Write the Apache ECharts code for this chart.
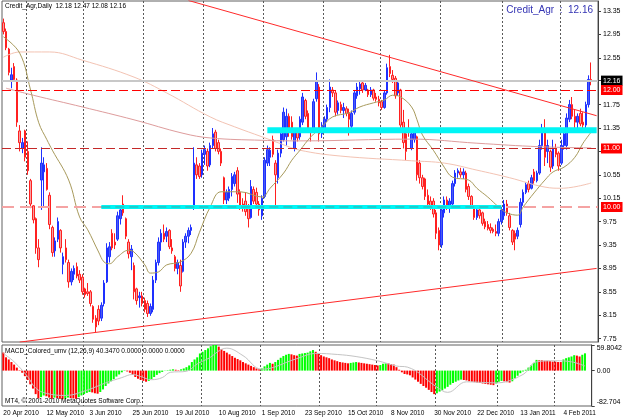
<!DOCTYPE html>
<html>
<head>
<meta charset="utf-8">
<script src="https://cdn.jsdelivr.net/npm/echarts@6/dist/echarts.min.js"></script>
<style>
  html, body { margin: 0; padding: 0; background: #fff; }
  #chart { width: 625px; height: 420px; }
</style>
</head>
<body>
<div id="chart"></div>
<script>
// daily bars, Credit_Agr, from 20 Apr 2010 (weekdays only)
const startDate = [2010, 3, 20]
const barCount = 217
const emptyBars = 2

const opens = [
  13.15, 13.00, 12.70, 12.17, 12.40, 12.17, 11.30, 11.00, 11.30, 10.95, 10.45, 10.02, 9.80, 9.30, 10.46, 10.60,
  10.66, 10.20, 9.65, 9.25, 9.45, 9.60, 9.02, 9.30, 9.05, 8.72, 8.85, 8.98, 8.85, 8.80, 8.60, 8.55,
  8.55, 8.30, 8.10, 8.25, 8.10, 8.35, 8.72, 9.15, 9.55, 9.40, 9.45, 9.80, 10.05, 9.80, 9.40, 9.15,
  9.00, 8.60, 8.45, 8.48, 8.40, 8.35, 8.18, 8.25, 8.75, 9.05, 9.40, 9.55, 9.50, 9.60, 9.30, 9.15,
  8.95, 9.00, 8.90, 9.40, 9.50, 9.60, 9.98, 10.72, 10.70, 10.55, 10.90, 10.95, 10.72, 11.05, 11.28, 11.10,
  10.95, 10.50, 10.12, 10.15, 10.30, 10.40, 10.62, 10.25, 10.05, 10.10, 10.00, 9.82, 10.30, 10.25, 10.05, 9.85,
  10.18, 10.75, 10.85, 11.15, 10.75, 10.50, 10.92, 11.15, 11.20, 11.55, 11.45, 11.00, 11.28, 11.20, 11.45, 11.82,
  11.60, 11.30, 11.30, 11.85, 12.05, 11.25, 11.32, 11.50, 11.70, 12.00, 11.95, 11.65, 11.75, 11.65, 11.68, 11.60,
  11.38, 11.62, 11.90, 12.02, 12.12, 12.00, 12.00, 11.92, 12.00, 11.88, 11.84, 11.80, 11.70, 11.95, 12.40, 12.25,
  12.20, 11.95, 12.00, 11.45, 11.25, 11.35, 11.00, 11.15, 11.20, 10.75, 10.50, 10.48, 10.20, 10.10, 10.10, 9.90,
  9.60, 9.35, 9.90, 10.12, 10.00, 10.05, 10.40, 10.58, 10.60, 10.55, 10.58, 10.35, 10.18, 10.00, 9.82, 9.95,
  9.90, 9.75, 9.70, 9.65, 9.62, 9.58, 9.55, 9.75, 9.85, 10.05, 9.85, 9.60, 9.55, 9.50, 9.70, 10.08,
  10.25, 10.40, 10.32, 10.60, 10.45, 10.58, 11.05, 11.30, 10.95, 10.95, 10.70, 11.00, 10.92, 10.75, 11.05, 11.05,
  11.50, 11.75, 11.55, 11.45, 11.60, 11.45, 11.40, 11.75, 12.18
]
const highs = [
  13.22, 13.05, 12.72, 12.38, 12.46, 12.20, 11.40, 11.18, 11.32, 11.12, 10.48, 10.03, 9.82, 9.45, 11.02, 10.85,
  10.75, 10.25, 9.68, 9.48, 9.82, 9.62, 9.22, 9.45, 9.10, 8.95, 9.00, 9.05, 8.92, 8.85, 8.62, 8.70,
  8.58, 8.32, 8.15, 8.32, 8.37, 8.75, 9.38, 9.40, 9.62, 9.55, 9.92, 10.00, 10.20, 9.82, 9.45, 9.35,
  9.05, 8.62, 8.55, 8.55, 8.45, 8.40, 8.35, 8.82, 9.10, 9.48, 9.62, 9.70, 9.65, 9.62, 9.45, 9.18,
  9.10, 9.10, 9.45, 9.55, 9.65, 9.70, 11.02, 10.85, 10.75, 10.98, 11.05, 11.00, 11.10, 11.35, 11.32, 11.15,
  11.00, 10.52, 10.30, 10.35, 10.58, 10.60, 10.68, 10.30, 10.15, 10.25, 10.05, 10.46, 10.35, 10.33, 10.10, 10.20,
  10.85, 11.05, 11.02, 11.22, 10.80, 10.98, 11.32, 11.70, 11.68, 11.60, 11.55, 11.35, 11.35, 11.55, 11.95, 11.85,
  11.65, 11.35, 11.85, 12.30, 12.10, 11.45, 11.55, 11.75, 12.18, 12.05, 12.00, 11.82, 11.80, 11.78, 11.72, 11.68,
  11.65, 12.00, 12.12, 12.15, 12.17, 12.12, 12.02, 12.05, 12.02, 11.95, 11.90, 11.83, 12.00, 12.45, 12.60, 12.34,
  12.24, 12.17, 12.02, 11.66, 11.32, 11.50, 11.32, 11.32, 11.22, 10.80, 10.55, 10.50, 10.30, 10.18, 10.15, 9.95,
  9.65, 10.02, 10.18, 10.18, 10.15, 10.45, 10.63, 10.66, 10.67, 10.66, 10.62, 10.40, 10.20, 10.02, 10.00, 9.98,
  9.92, 9.80, 9.76, 9.72, 9.65, 9.70, 9.80, 10.00, 10.12, 10.12, 9.90, 9.62, 9.60, 9.65, 10.15, 10.30,
  10.42, 10.45, 10.55, 10.65, 10.62, 11.15, 11.42, 11.50, 11.15, 10.98, 11.15, 11.08, 10.95, 11.15, 11.32, 11.60,
  11.83, 11.88, 11.66, 11.60, 11.68, 11.62, 11.80, 12.25, 12.47
]
const lows = [
  12.95, 12.68, 12.25, 12.03, 12.15, 11.37, 10.95, 10.92, 10.78, 10.55, 9.98, 9.72, 9.20, 8.97, 9.95, 10.00,
  10.28, 9.62, 9.15, 9.15, 9.40, 9.22, 8.85, 9.05, 8.62, 8.66, 8.75, 8.78, 8.70, 8.50, 8.45, 8.48,
  8.30, 8.02, 7.86, 7.98, 8.05, 8.30, 8.70, 9.05, 9.26, 9.28, 9.42, 9.70, 9.85, 9.45, 9.12, 8.92,
  8.42, 8.33, 8.28, 8.30, 8.20, 8.12, 8.14, 8.20, 8.70, 9.00, 9.25, 9.40, 9.40, 9.28, 9.20, 8.90,
  8.85, 8.55, 8.88, 9.30, 9.38, 9.52, 9.95, 10.48, 10.48, 10.50, 10.72, 10.62, 10.68, 11.00, 10.95, 10.90,
  10.70, 10.05, 10.05, 10.10, 10.18, 10.35, 10.07, 9.95, 9.92, 9.85, 9.65, 9.80, 10.05, 10.02, 9.85, 9.78,
  10.15, 10.70, 10.70, 10.85, 10.00, 10.40, 10.85, 11.12, 11.05, 11.20, 11.15, 10.95, 11.12, 11.15, 11.40, 11.50,
  11.30, 11.12, 11.28, 11.80, 11.12, 11.18, 11.28, 11.45, 11.62, 11.88, 11.55, 11.58, 11.60, 11.52, 11.55, 11.22,
  11.35, 11.58, 11.85, 11.92, 11.95, 11.98, 11.88, 11.88, 11.82, 11.80, 11.72, 11.66, 11.68, 11.92, 12.22, 12.12,
  11.85, 11.90, 11.30, 11.00, 10.80, 11.20, 10.97, 11.10, 10.45, 10.40, 10.30, 10.12, 10.00, 9.95, 9.82, 9.45,
  9.26, 9.30, 9.82, 9.95, 9.90, 10.00, 10.35, 10.50, 10.50, 10.48, 10.25, 10.12, 10.00, 9.78, 9.78, 9.80,
  9.68, 9.62, 9.60, 9.55, 9.55, 9.50, 9.50, 9.70, 9.78, 9.85, 9.60, 9.35, 9.26, 9.45, 9.65, 10.02,
  10.22, 10.25, 10.30, 10.40, 10.42, 10.55, 10.98, 10.70, 10.75, 10.60, 10.65, 10.85, 10.62, 10.72, 10.98, 10.98,
  11.45, 11.50, 11.35, 11.32, 11.38, 11.32, 11.35, 11.70, 12.08
]
const closes = [
  13.00, 12.72, 12.30, 12.26, 12.18, 11.45, 11.10, 11.10, 10.85, 10.62, 10.05, 9.78, 9.30, 9.10, 10.75, 10.72,
  10.30, 9.70, 9.22, 9.42, 9.75, 9.30, 9.15, 9.10, 8.72, 8.90, 8.95, 8.82, 8.75, 8.55, 8.50, 8.52,
  8.35, 8.08, 7.95, 8.05, 8.32, 8.70, 9.30, 9.32, 9.30, 9.35, 9.85, 9.95, 9.90, 9.50, 9.20, 9.28,
  8.55, 8.40, 8.48, 8.35, 8.25, 8.18, 8.30, 8.75, 9.05, 9.40, 9.55, 9.45, 9.58, 9.32, 9.25, 8.95,
  9.05, 8.65, 9.40, 9.50, 9.60, 9.65, 10.75, 10.55, 10.52, 10.92, 10.98, 10.70, 11.05, 11.25, 11.00, 10.95,
  10.75, 10.12, 10.25, 10.30, 10.52, 10.55, 10.22, 10.02, 10.00, 9.92, 9.80, 10.35, 10.10, 10.05, 9.95, 10.15,
  10.80, 10.98, 10.97, 10.90, 10.55, 10.92, 11.25, 11.62, 11.55, 11.30, 11.20, 11.28, 11.18, 11.50, 11.88, 11.55,
  11.35, 11.28, 11.80, 12.15, 11.25, 11.40, 11.50, 11.70, 12.05, 11.95, 11.62, 11.78, 11.65, 11.70, 11.60, 11.50,
  11.60, 11.95, 12.05, 12.10, 12.00, 12.08, 11.92, 12.00, 11.86, 11.84, 11.78, 11.70, 11.95, 12.38, 12.28, 12.18,
  11.90, 12.12, 11.40, 11.10, 10.95, 11.28, 11.25, 11.28, 10.55, 10.50, 10.35, 10.18, 10.05, 10.00, 9.88, 9.55,
  9.35, 9.95, 10.12, 10.00, 10.10, 10.40, 10.58, 10.62, 10.55, 10.60, 10.30, 10.18, 10.02, 9.82, 9.95, 9.85,
  9.72, 9.66, 9.63, 9.60, 9.58, 9.55, 9.75, 9.95, 10.05, 9.90, 9.65, 9.40, 9.45, 9.60, 10.08, 10.25,
  10.38, 10.30, 10.50, 10.45, 10.58, 11.05, 11.35, 10.85, 11.05, 10.68, 11.00, 10.90, 10.70, 11.05, 11.25, 11.52,
  11.75, 11.55, 11.45, 11.55, 11.42, 11.40, 11.75, 12.18, 12.16
]

// MACD_Colored (12,26,9) main line, drawn as histogram
const macdHist = [
  42, 31, 26, 20, 14, 7, 1, -5, -13, -22, -32, -42, -55, -65, -62, -58,
  -60, -63, -66, -63, -64, -66, -67, -66, -63, -64, -65, -66, -62, -58, -55, -52,
  -50, -51, -53, -54, -50, -44, -36, -30, -25, -20, -14, -9, -4, -1, -2, -5,
  -10, -15, -19, -22, -24, -26, -24, -20, -15, -10, -6, -3, 0.5, 1, 2, 3,
  2, 1, 3, 5, 8, 12, 20, 26, 31, 40, 44, 48, 52, 57, 60, 61,
  56, 50, 46, 42, 38, 34, 30, 27, 24, 20, 17, 14, 11, 8, 5, 3,
  5, 10, 14, 18, 16, 20, 25, 30, 34, 37, 39, 38, 36, 35, 39, 40,
  41, 42, 45, 48, 44, 40, 36, 33, 31, 29, 26, 24, 22, 20, 19, 18,
  17, 18, 19, 20, 19, 18, 17, 16, 15, 14, 13, 12, 13, 16, 17, 17,
  15, 14, 8, 2, -4, -8, -9, -11, -16, -21, -26, -31, -36, -40, -45, -50,
  -55, -53, -49, -46, -42, -38, -33, -29, -26, -23, -21, -22, -23, -25, -26, -27,
  -28, -29, -30, -31, -32, -33, -34, -30, -26, -24, -25, -27, -28, -25, -18, -12,
  -6, -2, 2, 7, 12, 18, 25, 24, 24, 23, 23, 22, 21, 21, 20, 20,
  26, 29, 31, 33, 36, 35, 33, 37, 40.35
]
// signal line, read as [bar, value]
const macdSignal = [
  [0, 40.1], [4, 20.5], [9, -13.9], [12, -40.9], [16, -53.2], [23, -58.1], [31, -45.8], [38, -28.7],
  [44, -16.4], [48, -9.0], [51, -13.9], [55, -21.3], [59, -16.4], [62, -4.1], [68, -1.6], [72, 15.6],
  [76, 27.9], [83, 52.4], [89, 35.0], [96, 3.3], [109, 27.9], [116, 40.1], [124, 37.7], [131, 32.8],
  [139, 22.9], [146, 10.7], [150, 8.2], [161, -38.5], [165, -50.8], [172, -26.2], [183, -28.7], [193, -9.0],
  [198, 20.5], [205, 23.0], [211, 20.5], [216, 10.7]
]
const macdAxisLabels = [-82.704, 0, 59.8042]

// moving averages, read as [bar, price]
const maFast = [
  [0, 12.91], [6, 12.63], [10, 12.00], [13, 11.44], [16, 11.15], [18, 10.97], [24, 10.46], [28, 9.83],
  [31, 9.61], [35, 9.23], [37, 9.06], [39, 9.03], [42, 9.15], [46, 9.26], [48, 9.23], [52, 9.01],
  [54, 8.87], [57, 8.89], [60, 9.01], [65, 9.06], [69, 9.21], [72, 9.56], [76, 10.00], [80, 10.26],
  [87, 10.26], [95, 10.17], [98, 10.32], [103, 10.58], [106, 10.80], [109, 10.97], [113, 11.20], [117, 11.37],
  [121, 11.54], [127, 11.61], [131, 11.71], [136, 11.78], [140, 11.83], [143, 11.91], [146, 11.88], [150, 11.71],
  [152, 11.49], [154, 11.23], [158, 10.97], [162, 10.68], [165, 10.51], [171, 10.46], [174, 10.32], [178, 10.17],
  [182, 10.00], [185, 9.90], [189, 9.86], [191, 10.00], [195, 10.24], [199, 10.46], [202, 10.60], [206, 10.68],
  [210, 10.85], [213, 11.09], [216, 11.28]
]
const maSlow = [
  [0, 12.56], [6, 12.65], [17, 12.65], [29, 12.51], [48, 12.22], [60, 11.95], [76, 11.54], [85, 11.37],
  [95, 11.20], [102, 11.08], [109, 10.97], [124, 10.87], [150, 10.79], [162, 10.75], [174, 10.63], [186, 10.50],
  [199, 10.34], [205, 10.32], [216, 10.41]
]
const maMid = [
  [1, 12.03], [11, 11.91], [29, 11.71], [48, 11.49], [66, 11.26], [76, 11.18], [95, 11.14], [109, 11.13],
  [150, 11.16], [174, 11.09], [197, 11.03], [216, 11.01]
]

// drawn objects
const trendTop = [[68, 13.53], [218, 11.56]]
const trendBottom = [[6, 7.69], [218, 8.95]]
const zoneHigh = [[97, 11.31], [218, 11.31]]
const zoneLow = [[36, 10.0], [183, 10.0]]
const bidPrice = 12.16
const levels = [12.0, 11.0, 10.0]

const priceTicks = [7.75, 8.15, 8.55, 8.95, 9.35, 9.75, 10.15, 10.55, 10.95, 11.35, 11.75, 12.16, 12.55, 12.95, 13.35]
const gridBars = [9, 30, 52, 74, 96, 118, 139, 161, 184, 205]

const monthNames = ['Jan', 'Feb', 'Mar', 'Apr', 'May', 'Jun', 'Jul', 'Aug', 'Sep', 'Oct', 'Nov', 'Dec']
const dates = []
const day = new Date(Date.UTC(startDate[0], startDate[1], startDate[2]))
while (dates.length < barCount) {
  const wd = day.getUTCDay()
  if (wd !== 0 && wd !== 6) {
    dates.push(day.getUTCDate() + ' ' + monthNames[day.getUTCMonth()] + ' ' + day.getUTCFullYear())
  }
  day.setUTCDate(day.getUTCDate() + 1)
}
const categories = dates.concat(new Array(emptyBars).fill(''))

const candles = opens.map((o, i) => [o, closes[i], lows[i], highs[i]])
const macdBars = macdHist.map((v, i) => ({
  value: v,
  itemStyle: { color: i > 0 && v > macdHist[i - 1] ? '#00ff00' : '#ff0000' }
}))

const font = 'Liberation Sans, Arial, sans-serif'
const gridLine = {
  show: true,
  interval: i => gridBars.includes(i),
  lineStyle: { color: '#5a5a5a', type: [2, 2], width: 1 }
}
const boxLabel = (text, bg) => ({
  show: true,
  position: 'end',
  formatter: text,
  color: '#fff',
  backgroundColor: bg,
  fontSize: 7,
  fontFamily: font,
  padding: [2, 2, 1, 2],
  distance: 3
})
const levelStyles = [
  { color: '#ff0000', type: [9, 4], width: 1 },
  { color: '#c42828', type: [9, 4], width: 1 },
  { color: '#f5a3a3', type: [12, 6], width: 2 }
]

const chart = echarts.init(document.getElementById('chart'), null, { renderer: 'canvas' })
chart.setOption({
  animation: false,
  backgroundColor: '#fff',
  grid: [
    { left: 2, right: 27, top: 1, height: 341, show: true, borderColor: '#606060', borderWidth: 1 },
    { left: 2, right: 27, top: 345, height: 61, show: true, borderColor: '#606060', borderWidth: 1 }
  ],
  xAxis: [
    {
      gridIndex: 0, type: 'category', data: categories, boundaryGap: true,
      axisLine: { show: false }, axisTick: { show: false }, axisLabel: { show: false },
      splitLine: gridLine
    },
    {
      gridIndex: 1, type: 'category', data: categories, boundaryGap: true,
      axisLine: { show: false }, axisTick: { show: false },
      axisLabel: {
        interval: i => i % 16 === 0 && i < barCount,
        align: 'left', fontSize: 6.5, fontFamily: font, color: '#000', margin: 4
      },
      splitLine: gridLine
    }
  ],
  yAxis: [
    {
      gridIndex: 0, type: 'value', position: 'right', min: 7.692, max: 13.521, scale: true,
      axisLine: { show: true, lineStyle: { color: '#404040' } },
      axisTick: { show: true, customValues: priceTicks, length: 3, lineStyle: { color: '#404040' } },
      axisLabel: { customValues: priceTicks, formatter: v => v.toFixed(2), fontSize: 7, fontFamily: font, color: '#000', margin: 5 },
      splitLine: { show: false }
    },
    {
      gridIndex: 1, type: 'value', position: 'right', min: -82.704, max: 59.8042,
      axisLine: { show: true, lineStyle: { color: '#404040' } },
      axisTick: { show: true, customValues: macdAxisLabels, length: 3, lineStyle: { color: '#404040' } },
      axisLabel: {
        customValues: macdAxisLabels,
        formatter: v => (v === 0 ? '0.00' : String(v)),
        verticalAlignMaxLabel: 'top',
        verticalAlignMinLabel: 'bottom',
        fontSize: 7, fontFamily: font, color: '#000', margin: 5
      },
      splitLine: { show: false }
    }
  ],
  series: [
    {
      type: 'candlestick', xAxisIndex: 0, yAxisIndex: 0, data: candles, barWidth: 2, z: 2,
      itemStyle: { color: '#4a5cf2', borderColor: '#1e30ff', color0: '#f5a2a2', borderColor0: '#ff2020', borderWidth: 1 },
      markLine: {
        silent: true, symbol: 'none', z: 4,
        data: [
          { yAxis: bidPrice, lineStyle: { color: '#c8c8c8', type: 'solid', width: 2 }, label: boxLabel(bidPrice.toFixed(2), '#000') }
        ].concat(levels.map((v, i) => ({ yAxis: v, lineStyle: levelStyles[i], label: boxLabel(v.toFixed(2), '#ff0000') })))
      }
    },
    { type: 'line', data: zoneHigh, symbol: 'none', z: 5, lineStyle: { color: '#00f5f5', width: 6 } },
    { type: 'line', data: zoneLow, symbol: 'none', z: 5, lineStyle: { color: '#00f5f5', width: 4 } },
    { type: 'line', data: zoneLow, symbol: 'none', z: 6, lineStyle: { color: '#3aa6a6', width: 1, type: [9, 5] } },
    { type: 'line', data: maSlow, symbol: 'none', smooth: 0.4, z: 3, lineStyle: { color: '#f3c3b3', width: 1 } },
    { type: 'line', data: maMid, symbol: 'none', smooth: 0.4, z: 3, lineStyle: { color: '#de9c9c', width: 1 } },
    { type: 'line', data: maFast, symbol: 'none', smooth: 0.4, z: 3, lineStyle: { color: '#a89a5c', width: 1 } },
    { type: 'line', data: trendTop, symbol: 'none', z: 4, lineStyle: { color: '#ff2a2a', width: 1 } },
    { type: 'line', data: trendBottom, symbol: 'none', z: 4, lineStyle: { color: '#ff2a2a', width: 1 } },
    { type: 'bar', xAxisIndex: 1, yAxisIndex: 1, data: macdBars, barWidth: 2, z: 2 },
    { type: 'line', xAxisIndex: 1, yAxisIndex: 1, data: macdSignal, symbol: 'none', smooth: 0.4, z: 3, lineStyle: { color: '#c4c4c4', width: 1 } }
  ],
  graphic: [
    { type: 'text', left: 5, top: 3, z: 10, style: { text: 'Credit_Agr,Daily  12.18 12.47 12.08 12.16', font: '6.5px ' + font, fill: '#000' } },
    { type: 'text', right: 32, top: 5, z: 10, style: { text: 'Credit_Agr  :  12.16', font: '10px ' + font, fill: '#3434b4' } },
    { type: 'text', left: 5, top: 348, z: 10, style: { text: 'MACD_Colored_umv (12,26,9) 40.3470 0.0000 0.0000 0.0000', font: '6.5px ' + font, fill: '#000' } },
    { type: 'text', left: 5, top: 398, z: 10, style: { text: 'MT4, \u00a9 2001-2010 MetaQuotes Software Corp.', font: '6.5px ' + font, fill: '#000' } }
  ]
})
</script>
</body>
</html>
